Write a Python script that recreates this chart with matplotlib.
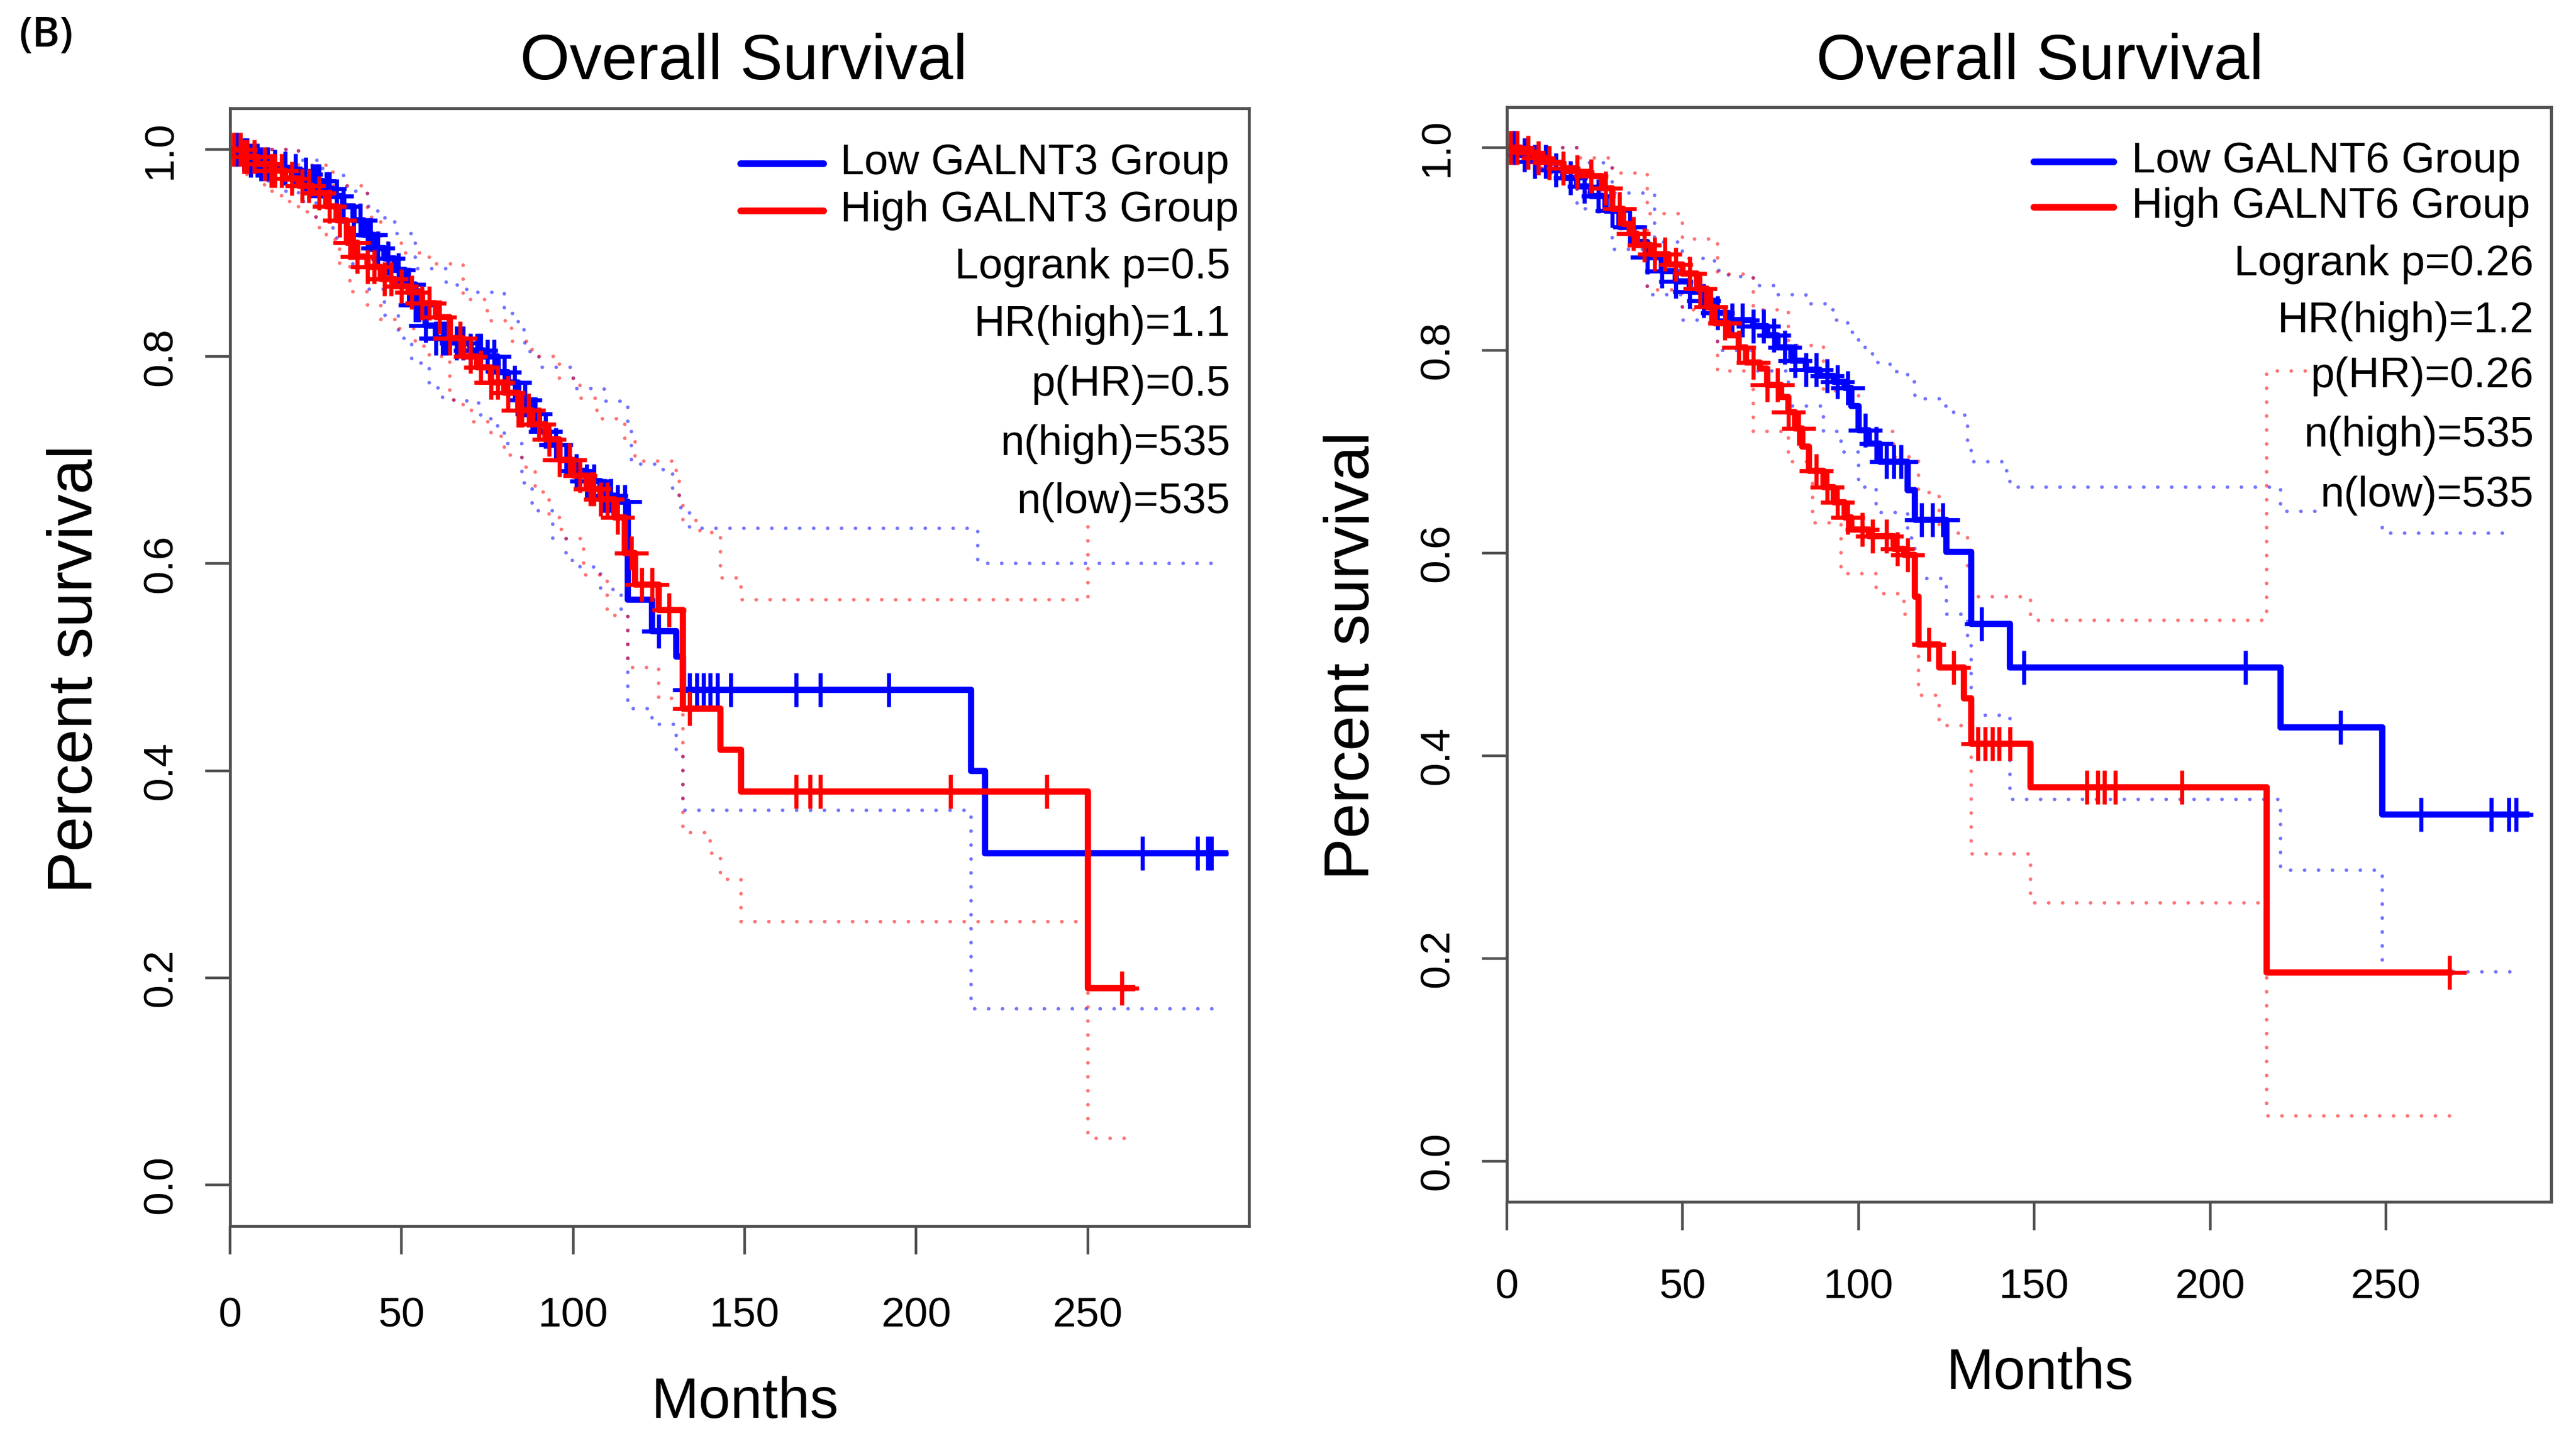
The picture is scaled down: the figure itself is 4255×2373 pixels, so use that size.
import numpy as np
import matplotlib
matplotlib.use('Agg')
import matplotlib.pyplot as plt

plt.rcParams['font.family'] = ['Liberation Sans', 'DejaVu Sans']

# ---- left panel: GALNT3 ----
b3_t = [0, 3, 6, 9, 12, 15, 18, 21, 24, 27, 30, 33, 36, 39, 42, 45, 48, 51, 54, 57, 60, 66, 70, 74, 78, 81,
        84, 87, 90, 93, 96, 100, 104, 108, 112, 116, 123, 130, 132, 216, 220]
b3_s = [1.0, 0.995, 0.99, 0.986, 0.984, 0.982, 0.98, 0.976, 0.97, 0.962, 0.955, 0.945, 0.932, 0.918, 0.905,
        0.895, 0.884, 0.87, 0.85, 0.83, 0.818, 0.813, 0.806, 0.80, 0.785, 0.775, 0.758, 0.745, 0.728, 0.715,
        0.70, 0.69, 0.68, 0.666, 0.66, 0.565, 0.535, 0.51, 0.478, 0.40, 0.32]
b3_end = 290
r3_t = [0, 4, 8, 12, 16, 20, 24, 28, 31, 34, 37, 40, 44, 48, 52, 56, 60, 64, 68, 72, 76, 80, 84, 88, 92, 96,
        100, 104, 108, 112, 115, 118, 125, 132, 143, 149, 250]
r3_s = [1.0, 0.993, 0.986, 0.98, 0.972, 0.965, 0.958, 0.945, 0.932, 0.91, 0.897, 0.887, 0.875, 0.868, 0.862,
        0.852, 0.838, 0.818, 0.80, 0.79, 0.775, 0.765, 0.748, 0.735, 0.72, 0.70, 0.685, 0.672, 0.662, 0.645,
        0.61, 0.58, 0.555, 0.46, 0.42, 0.38, 0.19]
r3_end = 263

# confidence limits (dotted)
bu3_t = [0, 10, 20, 27, 34, 40, 43, 48, 54, 63, 69, 80, 84, 86, 90, 100, 109, 116, 117, 125, 129, 131, 134, 218]
bu3_s = [1.0, 1.0, 0.99, 0.975, 0.96, 0.945, 0.934, 0.919, 0.885, 0.869, 0.862, 0.842, 0.826, 0.805, 0.79,
         0.769, 0.757, 0.734, 0.696, 0.691, 0.673, 0.654, 0.634, 0.60]
bl3_t = [0, 5, 10, 15, 20, 25, 30, 35, 40, 45, 49, 53, 58, 62, 69, 73, 78, 80, 85, 88, 94, 98, 102, 108, 114,
         116, 123, 130, 132, 216]
bl3_s = [1.0, 0.985, 0.97, 0.96, 0.95, 0.935, 0.915, 0.89, 0.865, 0.84, 0.818, 0.794, 0.77, 0.758, 0.755,
         0.74, 0.731, 0.716, 0.678, 0.651, 0.624, 0.603, 0.597, 0.575, 0.55, 0.46, 0.445, 0.42, 0.362, 0.17]
ci_b3_end = 287
ru3_t = [0, 10, 20, 30, 40, 44, 50, 58, 68, 75, 82, 88, 96, 102, 107, 115, 118, 130, 131, 132, 137, 143, 149, 250]
ru3_s = [1.0, 1.0, 0.985, 0.965, 0.935, 0.91, 0.9, 0.89, 0.855, 0.835, 0.815, 0.80, 0.779, 0.76, 0.74, 0.72,
         0.699, 0.683, 0.66, 0.642, 0.63, 0.586, 0.565, 0.66]
rl3_t = [0, 5, 10, 15, 20, 25, 28, 32, 35, 40, 44, 49, 54, 58, 64, 68, 71, 76, 80, 85, 89, 93, 96, 98, 103, 110,
         116, 125, 132, 140, 143, 149, 250]
rl3_s = [1.0, 0.975, 0.96, 0.95, 0.94, 0.925, 0.913, 0.889, 0.863, 0.85, 0.836, 0.827, 0.81, 0.80, 0.758, 0.748,
         0.737, 0.723, 0.705, 0.693, 0.669, 0.645, 0.633, 0.624, 0.589, 0.55, 0.50, 0.47, 0.34, 0.32, 0.295,
         0.254, 0.045]
ci_r3_end = 263

cens_b3 = [2, 4, 5, 6, 8, 9, 11, 13, 16, 19, 22, 24, 25, 26, 28, 29, 31, 33, 36, 38, 40, 41, 43, 46, 49, 52,
           54, 55, 57, 60, 62, 63, 66, 68, 70, 72, 73, 75, 77, 80, 83, 86, 88, 89, 92, 95, 98, 101, 104, 106,
           109, 111, 113, 115, 125, 134, 136, 138, 140, 142, 146, 165, 172, 192, 266, 282, 285, 286]
cens_r3 = [1, 3, 4, 5, 7, 10, 12, 13, 15, 18, 21, 23, 26, 29, 32, 35, 36, 37, 40, 42, 45, 47, 50, 53, 56, 58,
           61, 64, 67, 70, 73, 76, 78, 81, 84, 85, 87, 90, 93, 96, 99, 102, 105, 106, 108, 110, 113, 117, 120,
           123, 128, 134, 165, 169, 172, 210, 238, 260]

# ---- right panel: GALNT6 ----
b6_t = [0, 4, 8, 12, 16, 20, 24, 28, 32, 36, 40, 44, 48, 52, 56, 59, 63, 70, 74, 77, 81, 85, 89, 93, 96, 98,
        100, 103, 106, 114, 116, 125, 132, 143, 220, 249]
b6_s = [1.0, 0.993, 0.986, 0.978, 0.97, 0.962, 0.952, 0.938, 0.922, 0.907, 0.892, 0.878, 0.868, 0.858, 0.849,
        0.837, 0.83, 0.824, 0.815, 0.803, 0.79, 0.781, 0.775, 0.769, 0.763, 0.745, 0.721, 0.708, 0.69, 0.662,
        0.633, 0.601, 0.53, 0.487, 0.428, 0.342]
b6_end = 290
r6_t = [0, 4, 8, 12, 16, 20, 24, 27, 30, 33, 35, 37, 41, 46, 50, 54, 57, 59, 63, 66, 68, 72, 74, 78, 80, 82,
        84, 86, 90, 93, 96, 98, 103, 110, 113, 116, 117, 123, 130, 132, 149, 216]
r6_s = [1.0, 0.995, 0.99, 0.985, 0.98, 0.976, 0.972, 0.96, 0.94, 0.925, 0.915, 0.904, 0.895, 0.885, 0.876,
        0.861, 0.843, 0.827, 0.815, 0.803, 0.788, 0.782, 0.766, 0.754, 0.739, 0.723, 0.705, 0.681, 0.665, 0.65,
        0.635, 0.623, 0.617, 0.604, 0.598, 0.557, 0.51, 0.487, 0.457, 0.412, 0.369, 0.186]
r6_end = 268

bu6_t = [0, 10, 20, 30, 42, 50, 59, 63, 70, 76, 85, 91, 93, 97, 100, 104, 109, 114, 116, 124, 127, 131, 132,
         142, 143, 220, 249]
bu6_s = [1.0, 1.0, 0.985, 0.955, 0.907, 0.891, 0.879, 0.873, 0.864, 0.855, 0.846, 0.84, 0.83, 0.818, 0.803,
         0.788, 0.779, 0.769, 0.752, 0.745, 0.736, 0.711, 0.69, 0.681, 0.665, 0.641, 0.62]
bl6_t = [0, 10, 20, 30, 40, 50, 60, 70, 80, 90, 95, 100, 105, 114, 116, 125, 131, 132, 143, 220, 249]
bl6_s = [1.0, 0.975, 0.94, 0.9, 0.855, 0.83, 0.8, 0.78, 0.745, 0.72, 0.70, 0.665, 0.64, 0.615, 0.575, 0.54,
         0.51, 0.44, 0.357, 0.287, 0.187]
ci_b6_end = 287
ru6_t = [0, 10, 20, 30, 40, 50, 60, 70, 80, 90, 100, 110, 117, 123, 131, 132, 149, 216]
ru6_s = [1.0, 1.0, 0.99, 0.975, 0.935, 0.91, 0.875, 0.84, 0.805, 0.76, 0.72, 0.695, 0.66, 0.62, 0.58, 0.557,
         0.534, 0.78]
rl6_t = [0, 10, 20, 30, 40, 50, 60, 70, 80, 87, 95, 105, 113, 117, 123, 132, 149, 216]
rl6_s = [1.0, 0.98, 0.955, 0.92, 0.86, 0.84, 0.78, 0.72, 0.69, 0.63, 0.58, 0.56, 0.54, 0.46, 0.43, 0.303,
         0.255, 0.045]
ci_r6_end = 268

cens_b6 = [2, 5, 8, 11, 14, 18, 22, 26, 30, 35, 40, 44, 48, 52, 56, 60, 64, 67, 70, 73, 76, 79, 82, 85, 88, 91,
           94, 97, 102, 105, 108, 110, 112, 118, 121, 124, 135, 147, 210, 237, 260, 280, 285, 287]
cens_r6 = [1, 3, 6, 9, 12, 16, 20, 24, 28, 32, 36, 39, 42, 45, 48, 52, 55, 58, 62, 66, 70, 74, 77, 80, 83, 88,
           91, 94, 97, 101, 104, 108, 111, 114, 120, 127, 134, 136, 138, 140, 143, 165, 168, 170, 173, 192, 268]

gene_names = ['GALNT3', 'GALNT6']
stats = [['Logrank p=0.5', 'HR(high)=1.1', 'p(HR)=0.5', 'n(high)=535', 'n(low)=535'],
         ['Logrank p=0.26', 'HR(high)=1.2', 'p(HR)=0.26', 'n(high)=535', 'n(low)=535']]
xticks = [0, 50, 100, 150, 200, 250]
yticks = [0.0, 0.2, 0.4, 0.6, 0.8, 1.0]

BLUE = '#0000ff'
RED = '#ff0000'
FRAME = '#505050'
W, H = 4255, 2373


def stepline(ax, t, s, t_end, **kw):
    tt = list(t) + [t_end]
    ss = list(s) + [s[-1]]
    ax.step(tt, ss, where='post', **kw)


def surv_at(t, s, times):
    idx = np.searchsorted(np.asarray(t), np.asarray(times), side='right') - 1
    return np.asarray(s)[idx]


fig = plt.figure(figsize=(W / 100, H / 100), dpi=100)

panels = [
    dict(box=(380, 179, 2063, 2026), curves=(b3_t, b3_s, b3_end, r3_t, r3_s, r3_end),
         cis=((bu3_t, bu3_s, ci_b3_end, BLUE), (bl3_t, bl3_s, ci_b3_end, BLUE),
              (ru3_t, ru3_s, ci_r3_end, RED), (rl3_t, rl3_s, ci_r3_end, RED)),
         cens=(cens_b3, cens_r3),
         title=(1228, 104), ylab=(126, 1105), xlab=(1230, 2319), xpad=50,
         leg=(0.501, 0.582, 0.599, 0.9816), rows=[0.9507, 0.9085, 0.8576, 0.8062, 0.7526, 0.6996, 0.6476]),
    dict(box=(2489, 177, 4214, 1986), curves=(b6_t, b6_s, b6_end, r6_t, r6_s, r6_end),
         cis=((bu6_t, bu6_s, ci_b6_end, BLUE), (bl6_t, bl6_s, ci_b6_end, BLUE),
              (ru6_t, ru6_s, ci_r6_end, RED), (rl6_t, rl6_s, ci_r6_end, RED)),
         cens=(cens_b6, cens_r6),
         title=(3369, 104), ylab=(2235, 1083), xlab=(3369, 2270), xpad=45,
         leg=(0.5043, 0.5809, 0.5983, 0.9832), rows=[0.9504, 0.9088, 0.856, 0.8041, 0.754, 0.6998, 0.6452]),
]

for k, p in enumerate(panels):
    x0, y0, x1, y1 = p['box']
    ax = fig.add_axes([x0 / W, 1 - y1 / H, (x1 - x0) / W, (y1 - y0) / H])
    ax.set_xlim(0, 297)
    ax.set_ylim(-0.04, 1.04)

    for t, s, te, c in p['cis']:
        stepline(ax, t, s, te, color=c, lw=4.2, alpha=0.55, linestyle=(0, (0.05, 3.9)),
                 dash_capstyle='round', zorder=1)

    bt, bs, be, rt, rs, re = p['curves']
    stepline(ax, bt, bs, be, color=BLUE, lw=7.5, zorder=2)
    cb = p['cens'][0]
    ax.plot(cb, surv_at(bt, bs, cb), linestyle='none', marker='+', ms=40, mew=4.8, color=BLUE, zorder=2)
    stepline(ax, rt, rs, re, color=RED, lw=7.5, zorder=2.2)
    cr = p['cens'][1]
    ax.plot(cr, surv_at(rt, rs, cr), linestyle='none', marker='+', ms=40, mew=4.8, color=RED, zorder=2.2)

    # legend and statistics
    lx0, lx1, tx, rx = p['leg']
    rows = p['rows']
    box = dict(facecolor='white', edgecolor='none', pad=1)
    for j, (c, lab) in enumerate([(BLUE, 'Low %s Group' % gene_names[k]), (RED, 'High %s Group' % gene_names[k])]):
        ax.plot([lx0, lx1], [rows[j], rows[j]], color=c, lw=8, solid_capstyle='round',
                transform=ax.transAxes, zorder=5)
        ax.text(tx, rows[j], lab, transform=ax.transAxes, ha='left', va='center', fontsize=51,
                bbox=box, zorder=4)
    for j, lab in enumerate(stats[k]):
        ax.text(rx, rows[j + 2], lab, transform=ax.transAxes, ha='right', va='center', fontsize=51,
                bbox=box, zorder=4)

    ax.set_xticks(xticks)
    ax.set_xticklabels([str(v) for v in xticks])
    ax.set_yticks(yticks)
    ax.set_yticklabels(['%.1f' % v for v in yticks], rotation=90, va='center')
    ax.tick_params(axis='x', direction='out', length=34, width=3.2, color=FRAME, labelsize=50, pad=p['xpad'])
    ax.tick_params(axis='y', direction='out', length=29.5, width=3.2, color=FRAME, labelsize=50, pad=30)
    for sp in ax.spines.values():
        sp.set_color(FRAME)
        sp.set_linewidth(3.5)

    fig.text(p['title'][0] / W, 1 - p['title'][1] / H, 'Overall Survival', ha='center', va='center', fontsize=76)
    fig.text(p['ylab'][0] / W, 1 - p['ylab'][1] / H, 'Percent survival', ha='center', va='center',
             rotation=90, fontsize=75)
    fig.text(p['xlab'][0] / W, 1 - p['xlab'][1] / H, 'Months', ha='center', va='center', fontsize=68)

fig.text(76 / W, 1 - 60 / H, '(B)', ha='center', va='center', fontsize=50, family='Open Sans',
         fontweight='semibold')

fig.savefig('out.png', dpi=100, facecolor='white')
